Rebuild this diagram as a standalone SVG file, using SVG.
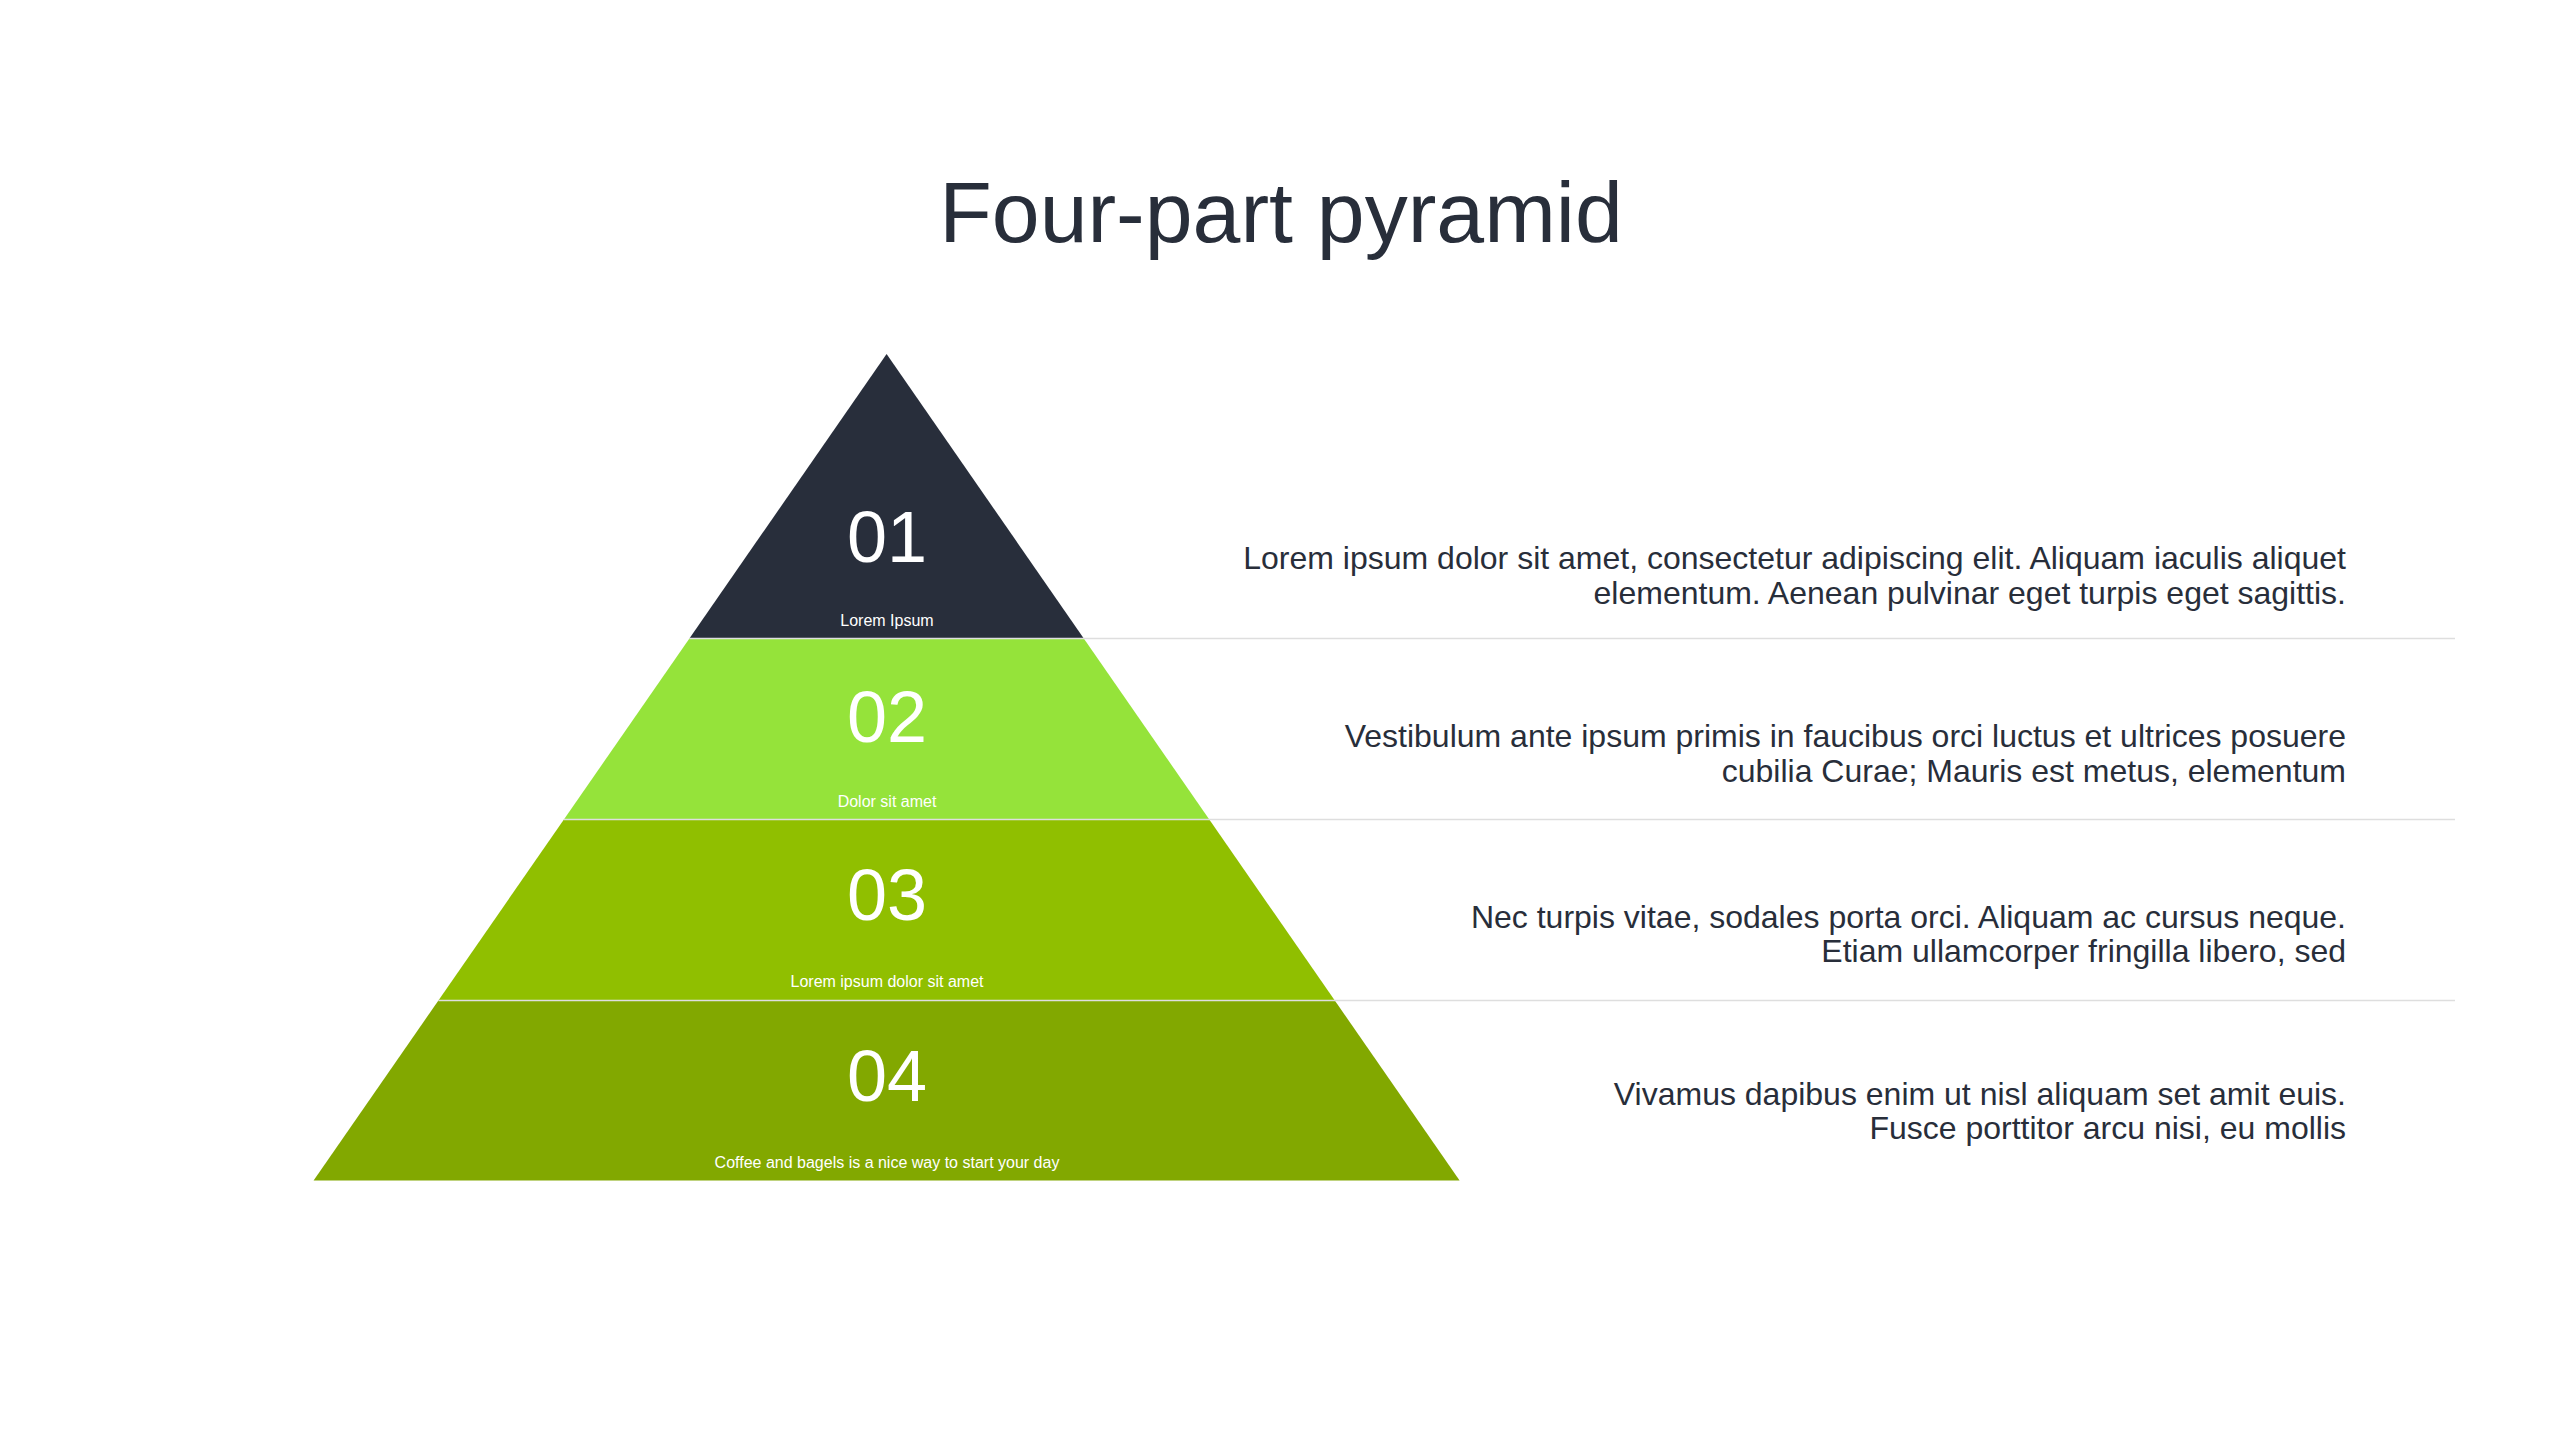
<svg xmlns="http://www.w3.org/2000/svg" width="2560" height="1440" viewBox="0 0 2560 1440">
<style>
text{font-family:"Liberation Sans",Arial,Helvetica,sans-serif}
.title{font-size:86px;fill:#282e3a;text-anchor:middle}
.num{font-size:72px;fill:#ffffff;text-anchor:middle}
.lbl{font-size:16px;fill:#ffffff;text-anchor:middle}
.desc{font-size:32px;fill:#282e3a;text-anchor:end}
.sep{stroke:#dedede;stroke-width:1.5;fill:none}
</style>
<rect width="2560" height="1440" fill="#ffffff"/>
<text class="title" x="1281" y="242">Four-part pyramid</text>
<g id="tier1">
<polygon points="886.6,354 1083.8,638.5 689.4,638.5" fill="#282e3b"/>
<text class="num" x="887" y="562">01</text>
<text class="lbl" x="887" y="626">Lorem Ipsum</text>
</g>
<g id="tier2">
<polygon points="689.4,638.5 1083.8,638.5 1209.3,819.5 563.9,819.5" fill="#95e33a"/>
<text class="num" x="887" y="742">02</text>
<text class="lbl" x="887" y="807">Dolor sit amet</text>
</g>
<g id="tier3">
<polygon points="563.9,819.5 1209.3,819.5 1334.8,1000.5 438.4,1000.5" fill="#90bf00"/>
<text class="num" x="887" y="920">03</text>
<text class="lbl" x="887" y="987">Lorem ipsum dolor sit amet</text>
</g>
<g id="tier4">
<polygon points="438.4,1000.5 1334.8,1000.5 1459.6,1180.5 313.6,1180.5" fill="#82a800"/>
<text class="num" x="887" y="1101">04</text>
<text class="lbl" x="887" y="1168">Coffee and bagels is a nice way to start your day</text>
</g>
<g id="connectors">
<line class="sep" x1="689.4" y1="638.5" x2="2455" y2="638.5"/>
<line class="sep" x1="563.9" y1="819.5" x2="2455" y2="819.5"/>
<line class="sep" x1="438.4" y1="1000.5" x2="2455" y2="1000.5"/>
</g>
<g id="desc1">
<text class="desc" x="2346" y="569">Lorem ipsum dolor sit amet, consectetur adipiscing elit. Aliquam iaculis aliquet</text>
<text class="desc" x="2346" y="603.5">elementum. Aenean pulvinar eget turpis eget sagittis.</text>
</g>
<g id="desc2">
<text class="desc" x="2346" y="747">Vestibulum ante ipsum primis in faucibus orci luctus et ultrices posuere</text>
<text class="desc" x="2346" y="781.5">cubilia Curae; Mauris est metus, elementum</text>
</g>
<g id="desc3">
<text class="desc" x="2346" y="927.5">Nec turpis vitae, sodales porta orci. Aliquam ac cursus neque.</text>
<text class="desc" x="2346" y="962">Etiam ullamcorper fringilla libero, sed</text>
</g>
<g id="desc4">
<text class="desc" x="2346" y="1105">Vivamus dapibus enim ut nisl aliquam set amit euis.</text>
<text class="desc" x="2346" y="1139">Fusce porttitor arcu nisi, eu mollis</text>
</g>
</svg>
